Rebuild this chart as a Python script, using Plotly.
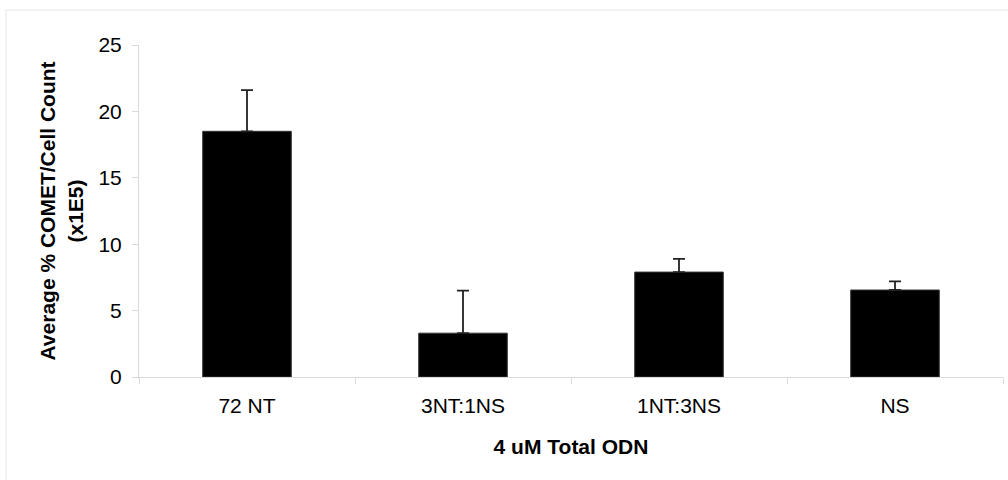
import plotly.graph_objects as go

# Treatment groups and measured averages (x1E5) with upper error
categories = ["72 NT", "3NT:1NS", "1NT:3NS", "NS"]
averages = [18.5, 3.3, 7.9, 6.55]
errors_plus = [3.1, 3.2, 1.0, 0.65]
y_ticks = [0, 5, 10, 15, 20, 25]

FONT = "Liberation Sans, Arial, sans-serif"
GRID = "#d9d9d9"

fig = go.Figure(
    go.Bar(
        x=categories,
        y=averages,
        marker=dict(color="black", line=dict(color="#333333", width=1)),
        error_y=dict(
            type="data",
            symmetric=False,
            array=errors_plus,
            arrayminus=[0] * len(errors_plus),
            color="#222222",
            thickness=1.8,
            width=6,
        ),
        width=0.41,
    )
)

fig.update_layout(
    width=1008,
    height=480,
    paper_bgcolor="white",
    plot_bgcolor="white",
    margin=dict(l=139, r=5, t=45, b=103),
    showlegend=False,
    font=dict(family=FONT, color="black"),
    xaxis=dict(
        type="category",
        tickson="boundaries",
        ticks="outside",
        ticklen=6,
        tickcolor=GRID,
        showline=True,
        linecolor=GRID,
        linewidth=1,
        showgrid=False,
        tickfont=dict(size=21, family=FONT),
        ticklabelstandoff=10,
        title=dict(text="<b>4 uM Total ODN</b>", font=dict(size=21, family=FONT), standoff=23),
    ),
    yaxis=dict(
        range=[0, 25],
        tickvals=y_ticks,
        ticks="outside",
        ticklen=6,
        tickcolor=GRID,
        showline=True,
        linecolor=GRID,
        linewidth=1,
        showgrid=False,
        zeroline=False,
        tickfont=dict(size=21, family=FONT),
        ticklabelstandoff=6,
        title=dict(
            text="<b>Average % COMET/Cell Count<br>(x1E5)</b>",
            font=dict(size=21, family=FONT),
            standoff=9,
        ),
    ),
    shapes=[
        dict(
            type="rect",
            xref="paper",
            yref="paper",
            x0=-133 / 864,
            x1=1.0 + 20 / 864,
            y0=-(103 + 20) / 332,
            y1=1 + 35 / 332,
            line=dict(color="#e6e6e6", width=1),
            fillcolor="rgba(0,0,0,0)",
            layer="below",
        )
    ],
)

fig.write_html("out.html")
